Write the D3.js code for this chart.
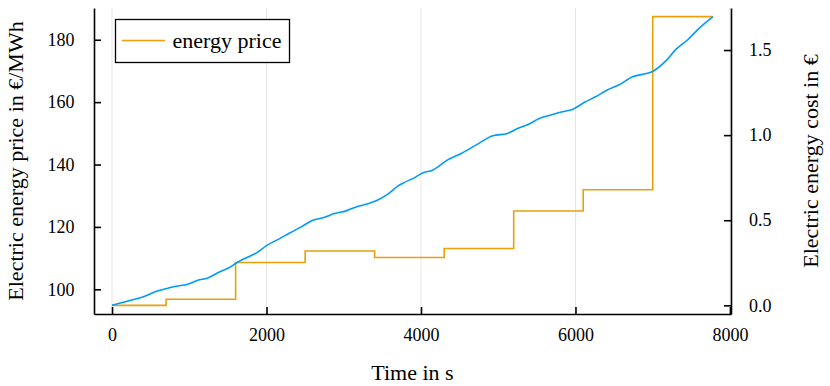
<!DOCTYPE html>
<html>
<head>
<meta charset="utf-8">
<script src="https://cdn.jsdelivr.net/npm/d3@7"></script>
<style>
  html, body { margin: 0; padding: 0; background: #fff; }
  svg { display: block; }
  text { font-family: "Liberation Serif", "Times New Roman", serif; fill: #000; }
</style>
</head>
<body>
<svg id="chart" width="830" height="386"></svg>
<script>
// Energy price schedule (step changes at these times, in s) and price levels in €/MWh
const priceTimes  = [0, 700, 1600, 2500, 3400, 4300, 5200, 6100, 7000, 7780];
const priceValues = [94.86, 96.8, 108.6, 112.3, 110.2, 113.1, 125.1, 131.9, 187.4, 187.4];

// Accumulated electric energy cost (€) over time (s)
const costTimes = [0, 230, 400, 550, 700, 830, 980, 1110, 1240, 1390, 1520, 1610, 1740, 1870,
  2000, 2170, 2300, 2450, 2600, 2730, 2880, 3030, 3160, 3290, 3420, 3570, 3700, 3760, 3935,
  4020, 4150, 4340, 4520, 4710, 4930, 5120, 5230, 5400, 5530, 5680, 5830, 5960, 6130, 6260,
  6410, 6560, 6740, 6870, 6990, 7170, 7300, 7450, 7600, 7780];
const costValues = [0, 0.029, 0.049, 0.078, 0.098, 0.112, 0.124, 0.147, 0.161, 0.196, 0.222,
  0.249, 0.28, 0.308, 0.351, 0.392, 0.425, 0.461, 0.5, 0.514, 0.539, 0.555, 0.578, 0.594,
  0.614, 0.653, 0.7, 0.716, 0.755, 0.778, 0.794, 0.853, 0.892, 0.941, 0.996, 1.01, 1.035,
  1.065, 1.098, 1.118, 1.137, 1.151, 1.196, 1.225, 1.265, 1.294, 1.343, 1.357, 1.372, 1.436,
  1.504, 1.559, 1.627, 1.696];

// Tick values
const xTicks = [0, 2000, 4000, 6000, 8000];
const priceTicks = [100, 120, 140, 160, 180];
const costTicks = [0, 0.5, 1.0, 1.5];

const legendLabel = "energy price";
const xLabel = "Time in s";
const priceLabel = "Electric energy price in €/MWh";
const costLabel = "Electric energy cost in €";

const colorPrice = "#E9A10A";
const colorCost = "#009AFA";

const plot = { left: 94, right: 731, top: 8, bottom: 314 };

// Pad each extent by 3% on both sides
function padded(extent) {
  const span = extent[1] - extent[0];
  return [extent[0] - 0.03 * span, extent[1] + 0.03 * span];
}

const x = d3.scaleLinear()
  .domain(padded(d3.extent(costTimes.concat(priceTimes))))
  .range([plot.left, plot.right]);
const yPrice = d3.scaleLinear()
  .domain(padded(d3.extent(priceValues)))
  .range([plot.bottom, plot.top]);
const yCost = d3.scaleLinear()
  .domain(padded(d3.extent(costValues)))
  .range([plot.bottom, plot.top]);

const svg = d3.select("#chart");

// Vertical grid lines
svg.append("g")
  .selectAll("line")
  .data(xTicks.filter(t => x(t) < plot.right - 1))
  .join("line")
  .attr("x1", d => x(d)).attr("x2", d => x(d))
  .attr("y1", plot.top).attr("y2", plot.bottom)
  .attr("stroke", "#e6e6e6")
  .attr("stroke-width", 1);

// Price step line
const priceData = priceTimes.map((t, i) => [t, priceValues[i]]);
svg.append("path")
  .datum(priceData)
  .attr("fill", "none")
  .attr("stroke", colorPrice)
  .attr("stroke-width", 1.6)
  .attr("d", d3.line().x(d => x(d[0])).y(d => yPrice(d[1])).curve(d3.curveStepAfter));

// Cost line
const costData = costTimes.map((t, i) => [t, costValues[i]]);
svg.append("path")
  .datum(costData)
  .attr("fill", "none")
  .attr("stroke", colorCost)
  .attr("stroke-width", 1.6)
  .attr("d", d3.line().x(d => x(d[0])).y(d => yCost(d[1])).curve(d3.curveMonotoneX));

// Axes
function styleAxis(g) {
  g.select(".domain").attr("stroke", "#000").attr("stroke-width", 1.6);
  g.selectAll(".tick line").attr("stroke", "#000").attr("stroke-width", 1.6);
  g.selectAll(".tick text").style("font-size", "18px").attr("fill", "#000");
}

svg.append("g")
  .attr("transform", `translate(0,${plot.bottom})`)
  .call(d3.axisBottom(x).tickValues(xTicks).tickFormat(d3.format("d"))
    .tickSizeInner(-7).tickSizeOuter(0).tickPadding(14.5))
  .call(styleAxis);

svg.append("g")
  .attr("transform", `translate(${plot.left},0)`)
  .call(d3.axisLeft(yPrice).tickValues(priceTicks).tickFormat(d3.format("d"))
    .tickSizeInner(-7).tickSizeOuter(0).tickPadding(19.5))
  .call(styleAxis);

svg.append("g")
  .attr("transform", `translate(${plot.right},0)`)
  .call(d3.axisRight(yCost).tickValues(costTicks).tickFormat(d3.format(".1f"))
    .tickSizeInner(-7).tickSizeOuter(0).tickPadding(18))
  .call(styleAxis);

// Axis titles
svg.append("text")
  .attr("x", (plot.left + plot.right) / 2)
  .attr("y", 380)
  .attr("text-anchor", "middle")
  .style("font-size", "22px")
  .text(xLabel);

svg.append("text")
  .attr("transform", `translate(23,${(plot.top + plot.bottom) / 2}) rotate(-90)`)
  .attr("text-anchor", "middle")
  .style("font-size", "22px")
  .text(priceLabel);

svg.append("text")
  .attr("transform", `translate(818,${(plot.top + plot.bottom) / 2}) rotate(-90)`)
  .attr("text-anchor", "middle")
  .style("font-size", "22px")
  .text(costLabel);

// Legend
const legend = svg.append("g");
legend.append("rect")
  .attr("x", 115.5).attr("y", 19.5)
  .attr("width", 174).attr("height", 43)
  .attr("fill", "#fff")
  .attr("stroke", "#000")
  .attr("stroke-width", 1.3);
legend.append("line")
  .attr("x1", 122).attr("x2", 165)
  .attr("y1", 40.5).attr("y2", 40.5)
  .attr("stroke", colorPrice)
  .attr("stroke-width", 1.6);
legend.append("text")
  .attr("x", 172.5).attr("y", 40.5)
  .attr("dy", "0.32em")
  .style("font-size", "22px")
  .text(legendLabel);
</script>
</body>
</html>
